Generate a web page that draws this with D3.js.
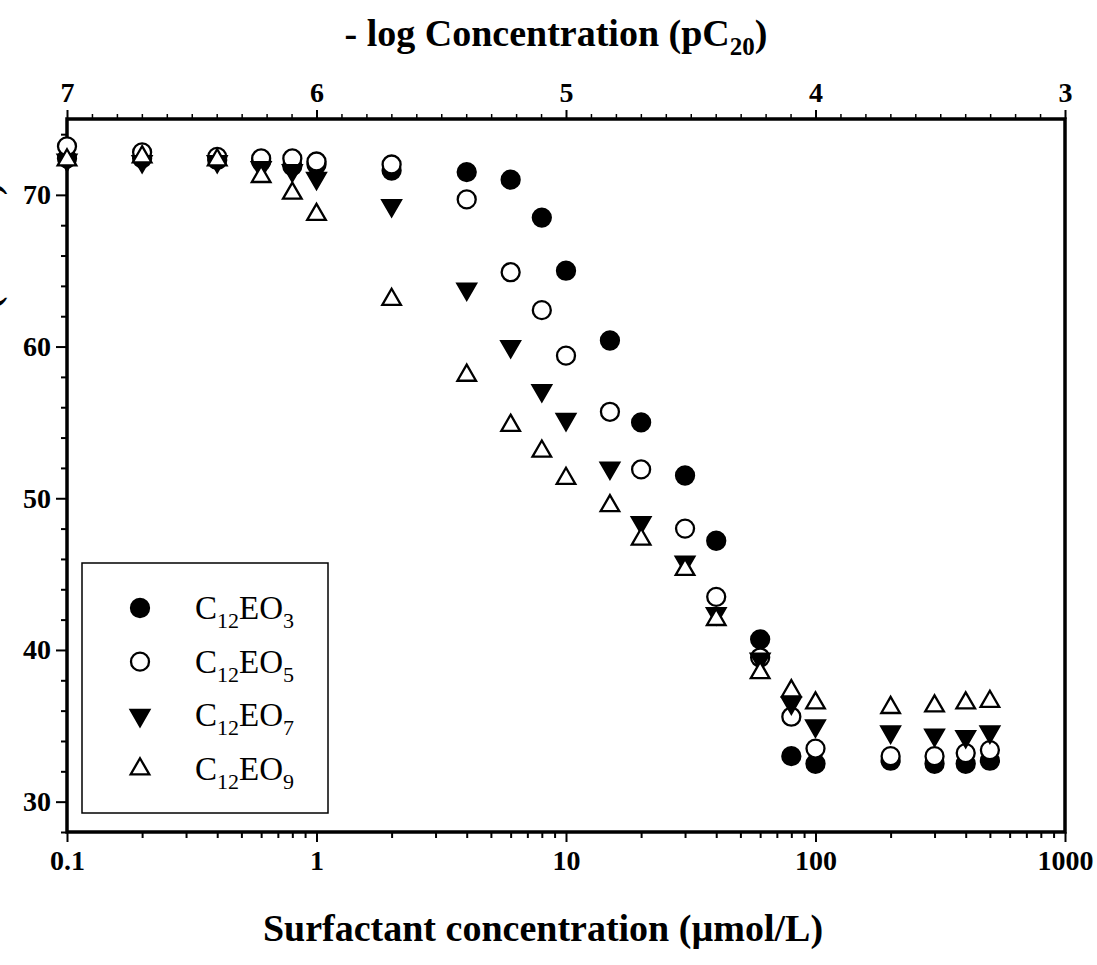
<!DOCTYPE html>
<html>
<head>
<meta charset="utf-8">
<script src="https://cdn.jsdelivr.net/npm/d3@7"></script>
<style>
  body { margin: 0; background: #fff; }
  svg { display: block; }
</style>
</head>
<body>
<div id="chart"></div>
<script>
// concentrations (umol/L) shared by all series
const conc = [0.1, 0.2, 0.4, 0.6, 0.8, 1, 2, 4, 6, 8, 10, 15, 20, 30, 40, 60, 80, 100, 200, 300, 400, 500];

// surface tension
const eo3 = [72.4, 72.4, 72.3, 72.2, 71.9, 72.0, 71.6, 71.5, 71.0, 68.5, 65.0, 60.4, 55.0, 51.5, 47.2, 40.7, 33.0, 32.5, 32.7, 32.5, 32.5, 32.7];
const eo5 = [73.2, 72.8, 72.5, 72.4, 72.4, 72.2, 72.0, 69.7, 64.9, 62.4, 59.4, 55.7, 51.9, 48.0, 43.5, 39.5, 35.6, 33.5, 33.0, 33.0, 33.2, 33.4];
const eo7 = [72.3, 72.2, 72.2, 71.8, 71.6, 71.1, 69.3, 63.8, 60.0, 57.1, 55.2, 52.0, 48.4, 45.8, 42.4, 39.4, 36.5, 35.0, 34.6, 34.4, 34.3, 34.6];
const eo9 = [72.3, 72.5, 72.3, 71.2, 70.1, 68.7, 63.1, 58.1, 54.8, 53.1, 51.3, 49.5, 47.3, 45.3, 42.0, 38.5, 37.3, 36.5, 36.2, 36.3, 36.5, 36.6];

const seriesSub = ['3', '5', '7', '9'];
const yTicks = [30, 40, 50, 60, 70];
const xTicks = [0.1, 1, 10, 100, 1000];
const topTicks = [7, 6, 5, 4, 3];

window.addEventListener('DOMContentLoaded', () => {
    const W = 1097, H = 965;
    const margin = { top: 119, right: 32, bottom: 133, left: 67 };
    const serif = '"Liberation Serif", "Times New Roman", serif';
    const tickFont = 28;

    const svg = d3.select('#chart').append('svg')
        .attr('width', W)
        .attr('height', H)
        .style('font-family', serif);

    const x = d3.scaleLog().domain([0.1, 1000]).range([margin.left, W - margin.right]);
    const xTop = d3.scaleLinear().domain([7, 3]).range([margin.left, W - margin.right]);
    const y = d3.scaleLinear().domain([28, 75]).range([H - margin.bottom, margin.top]);

    // minor ticks
    const xMinor = [];
    for (let d = 0.1; d < 1000; d *= 10) {
        for (let k = 2; k <= 9; k++) xMinor.push(+(d * k).toPrecision(3));
    }
    const topMinor = d3.range(30, 71).map(v => v / 10).filter(v => !topTicks.includes(v));
    const yMinor = d3.range(28, 76, 2).filter(v => !yTicks.includes(v));

    const plotB = H - margin.bottom, plotT = margin.top;

    // bottom axis
    svg.append('g')
        .attr('transform', `translate(0,${plotB})`)
        .call(d3.axisBottom(x).tickValues(xMinor).tickSize(6).tickFormat(''))
        .call(g => g.select('.domain').remove())
        .call(g => g.selectAll('line').attr('stroke-width', 2));
    svg.append('g')
        .attr('transform', `translate(0,${plotB})`)
        .call(d3.axisBottom(x).tickValues(xTicks).tickSize(10).tickPadding(8)
            .tickFormat(d => d3.format('~g')(d)))
        .call(g => g.select('.domain').remove())
        .call(g => g.selectAll('line').attr('stroke-width', 2))
        .call(g => g.selectAll('text').attr('font-size', tickFont).attr('font-weight', 'bold').attr('font-family', serif));

    // top axis (pC20)
    svg.append('g')
        .attr('transform', `translate(0,${plotT})`)
        .call(d3.axisTop(xTop).tickValues(topMinor).tickSize(5).tickFormat(''))
        .call(g => g.select('.domain').remove())
        .call(g => g.selectAll('line').attr('stroke-width', 1.5));
    svg.append('g')
        .attr('transform', `translate(0,${plotT})`)
        .call(d3.axisTop(xTop).tickValues(topTicks).tickSize(9).tickPadding(8).tickFormat(d3.format('d')))
        .call(g => g.select('.domain').remove())
        .call(g => g.selectAll('line').attr('stroke-width', 2))
        .call(g => g.selectAll('text').attr('font-size', tickFont).attr('font-weight', 'bold').attr('font-family', serif));

    // left axis
    svg.append('g')
        .attr('transform', `translate(${margin.left},0)`)
        .call(d3.axisLeft(y).tickValues(yMinor).tickSize(6).tickFormat(''))
        .call(g => g.select('.domain').remove())
        .call(g => g.selectAll('line').attr('stroke-width', 2));
    svg.append('g')
        .attr('transform', `translate(${margin.left},0)`)
        .call(d3.axisLeft(y).tickValues(yTicks).tickSize(11).tickPadding(5))
        .call(g => g.select('.domain').remove())
        .call(g => g.selectAll('line').attr('stroke-width', 2))
        .call(g => g.selectAll('text').attr('font-size', tickFont).attr('font-weight', 'bold').attr('font-family', serif));

    // frame
    svg.append('rect')
        .attr('x', margin.left)
        .attr('y', plotT)
        .attr('width', W - margin.right - margin.left)
        .attr('height', plotB - plotT)
        .attr('fill', 'none')
        .attr('stroke', '#000')
        .attr('stroke-width', 3.5);

    // titles
    const topTitle = svg.append('text')
        .attr('x', 556)
        .attr('y', 46)
        .attr('text-anchor', 'middle')
        .attr('font-size', 38)
        .attr('font-weight', 'bold');
    topTitle.append('tspan').text('- log Concentration (pC');
    topTitle.append('tspan').attr('font-size', 25).attr('dy', 9).text('20');
    topTitle.append('tspan').attr('dy', -9).text(')');

    svg.append('text')
        .attr('x', 543)
        .attr('y', 941)
        .attr('text-anchor', 'middle')
        .attr('font-size', 38)
        .attr('font-weight', 'bold')
        .text('Surfactant concentration (\u00b5mol/L)');

    // y-axis title, clipped by the page edge as in the source figure
    svg.append('text')
        .attr('transform', 'translate(-1,380) rotate(-90)')
        .attr('text-anchor', 'middle')
        .attr('font-size', 38)
        .attr('font-weight', 'bold')
        .text('Surface Tension (mN/m)');

    // markers
    const circle = d3.symbol().type(d3.symbolCircle).size(Math.PI * 9 * 9);
    const tri = d3.symbol().type(d3.symbolTriangle).size(150);
    const styles = [
        { path: circle(), fill: '#000', rot: 0 },
        { path: circle(), fill: '#fff', rot: 0 },
        { path: tri(), fill: '#000', rot: 180 },
        { path: tri(), fill: '#fff', rot: 0 }
    ];
    const allSeries = [eo3, eo5, eo7, eo9];

    allSeries.forEach((vals, i) => {
        const st = styles[i];
        svg.append('g').selectAll('path')
            .data(conc.map((c, j) => ({ c, v: vals[j] })))
            .join('path')
            .attr('d', st.path)
            .attr('transform', d => `translate(${x(d.c)},${y(d.v)}) rotate(${st.rot})`)
            .attr('fill', st.fill)
            .attr('stroke', '#000')
            .attr('stroke-width', 2.3);
    });

    // legend
    const lg = svg.append('g');
    lg.append('rect')
        .attr('x', 82).attr('y', 563)
        .attr('width', 246).attr('height', 250)
        .attr('fill', '#fff')
        .attr('stroke', '#000')
        .attr('stroke-width', 1.5);
    const legY = d3.scalePoint().domain(seriesSub).range([608, 769]);
    seriesSub.forEach((s, i) => {
        const st = styles[i];
        lg.append('path')
            .attr('d', st.path)
            .attr('transform', `translate(140,${legY(s)}) rotate(${st.rot})`)
            .attr('fill', st.fill)
            .attr('stroke', '#000')
            .attr('stroke-width', 2.3);
        const t = lg.append('text')
            .attr('x', 195)
            .attr('y', legY(s) + 11)
            .attr('font-size', 33);
        t.append('tspan').text('C');
        t.append('tspan').attr('font-size', 22).attr('dy', 9).text('12');
        t.append('tspan').attr('dy', -9).text('EO');
        t.append('tspan').attr('font-size', 22).attr('dy', 9).text(s);
    });
});
</script>
</body>
</html>
